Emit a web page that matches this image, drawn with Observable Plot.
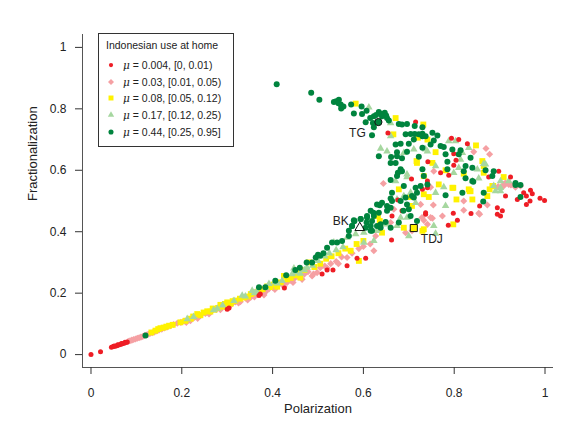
<!DOCTYPE html>
<html><head><meta charset="utf-8">
<script src="https://cdn.jsdelivr.net/npm/d3@7"></script>
<script src="https://cdn.jsdelivr.net/npm/@observablehq/plot@0.6"></script>
<style>
body{margin:0;background:#fff;font-family:"Liberation Sans",Arial,sans-serif;}
#wrap{position:relative;width:579px;height:422px;overflow:hidden;}
#legend{position:absolute;left:98px;top:33px;width:134px;height:112px;border:1px solid #333;background:#fff;color:#222;font-size:10.5px;}
#legend .t{position:absolute;left:7px;top:5px;white-space:nowrap;}
#legend .row{position:absolute;left:6px;white-space:nowrap;height:12px;line-height:12px;}
#legend .row svg{position:absolute;left:0;top:0;}
#legend .row span{position:absolute;left:18px;top:0;}
#legend i{font-family:"DejaVu Serif",serif;font-style:italic;}
</style></head>
<body><div id="wrap"><div id="legend"></div></div>
<script>
// ---- data (Polarization, Fractionalization) ----
const xTicks = [0, 0.2, 0.4, 0.6, 0.8, 1];
const yTicks = [0, 0.2, 0.4, 0.6, 0.8, 1];
const legendTitle = "Indonesian use at home";
const legendMu = ["0.004", "0.03", "0.08", "0.17", "0.44"];
const legendRange = ["[0, 0.01)", "[0.01, 0.05)", "[0.05, 0.12)", "[0.12, 0.25)", "[0.25, 0.95]"];

const redPts = [
 [0,0],[0.021,0.009],[0.045,0.024],[0.049,0.026],[0.053,0.027],[0.057,0.029],[0.061,0.031],[0.065,0.033],[0.069,0.035],[0.073,0.037],[0.077,0.039],[0.080,0.041],[0.051,0.028],[0.059,0.032],[0.067,0.036],[0.075,0.040],
 [0.300,0.148],[0.304,0.152],[0.370,0.192],[0.373,0.197],[0.426,0.217],[0.509,0.262],[0.520,0.275],[0.533,0.275],[0.564,0.289],[0.586,0.314],[0.605,0.314],[0.662,0.373],
 [0.715,0.757],[0.654,0.721],[0.794,0.704],[0.810,0.700],[0.829,0.686],[0.799,0.654],[0.804,0.633],[0.799,0.616],[0.742,0.628],[0.770,0.592],[0.788,0.584],[0.741,0.565],
 [0.898,0.597],[0.924,0.578],[0.876,0.578],[0.968,0.535],[0.913,0.516],[0.939,0.505],[0.953,0.527],[0.959,0.516],[0.972,0.524],[0.967,0.500],[0.959,0.489],[0.989,0.509],[0.999,0.502],
 [0.895,0.478],[0.906,0.468],[0.895,0.457],[0.902,0.451],[0.856,0.484],[0.837,0.459],[0.807,0.437],[0.798,0.460],[0.787,0.421],[0.737,0.457],[0.741,0.543],[0.706,0.572],[0.676,0.503],[0.685,0.468],[0.730,0.538],[0.663,0.451],[0.737,0.462]
];
const pinkPts = [
 [0.082,0.043],[0.086,0.045],[0.090,0.047],[0.094,0.049],[0.098,0.051],[0.102,0.053],[0.106,0.055],[0.110,0.057],[0.114,0.059],[0.118,0.062],[0.122,0.064],[0.126,0.066],[0.130,0.069],[0.135,0.071],[0.140,0.074],[0.145,0.077],[0.150,0.080],[0.156,0.083],[0.162,0.087],[0.168,0.090],[0.175,0.094],[0.182,0.098],[0.190,0.102],[0.198,0.105],[0.205,0.109],[0.215,0.113],[0.219,0.110],[0.228,0.121],[0.241,0.127],[0.252,0.134],[0.265,0.141],[0.276,0.147],[0.288,0.154],[0.296,0.160],[0.310,0.165],[0.318,0.171],[0.329,0.172],[0.342,0.183],[0.352,0.187],[0.366,0.197],[0.381,0.194],[0.392,0.214],[0.401,0.218],[0.412,0.226],[0.422,0.229],[0.432,0.235],[0.439,0.242],[0.448,0.248],[0.458,0.252],[0.470,0.262],[0.478,0.270],[0.487,0.256],[0.498,0.267],[0.505,0.283],[0.515,0.288],[0.528,0.296],[0.540,0.303],[0.552,0.318],[0.564,0.316],[0.575,0.330],[0.590,0.345],[0.600,0.352],[0.623,0.338],[0.615,0.360],
 [0.210,0.105],[0.235,0.118],[0.260,0.132],[0.285,0.146],[0.305,0.157],[0.325,0.168],[0.345,0.178],[0.360,0.188],[0.385,0.205],[0.405,0.212],[0.425,0.222],[0.445,0.235],[0.465,0.245],[0.490,0.262],[0.520,0.282],[0.545,0.296],
 [0.870,0.671],[0.878,0.652],[0.843,0.660],[0.748,0.545],[0.913,0.559],[0.924,0.554],[0.891,0.543],[0.755,0.597],[0.821,0.470],[0.854,0.460],[0.873,0.487],[0.754,0.487],[0.774,0.451],[0.752,0.444],[0.733,0.437],[0.741,0.424],[0.821,0.500],[0.909,0.554],[0.925,0.552],[0.644,0.557],[0.667,0.473],[0.660,0.430],[0.693,0.397],[0.627,0.386],[0.726,0.489],
 [0.909,0.549],[0.920,0.554],[0.946,0.549],[0.729,0.446],[0.748,0.446],[0.707,0.403],[0.856,0.457],[0.935,0.545],[0.897,0.547]
];
const yellowPts = [
 [0.133,0.072],[0.142,0.078],[0.148,0.083],[0.153,0.086],[0.160,0.088],[0.166,0.091],[0.172,0.094],[0.180,0.097],[0.197,0.105],[0.208,0.110],[0.220,0.117],[0.234,0.132],[0.241,0.128],[0.256,0.141],[0.263,0.140],[0.272,0.146],[0.285,0.162],[0.291,0.156],[0.300,0.170],[0.308,0.166],[0.318,0.176],[0.337,0.186],[0.346,0.189],[0.359,0.202],[0.368,0.205],[0.378,0.213],[0.395,0.220],[0.410,0.221],[0.418,0.235],[0.425,0.256],[0.440,0.250],[0.452,0.258],[0.461,0.251],[0.470,0.275],[0.480,0.300],[0.492,0.285],[0.505,0.296],[0.518,0.312],[0.530,0.320],[0.545,0.330],[0.560,0.345],[0.572,0.338],[0.590,0.305],[0.585,0.360],[0.600,0.370],
 [0.225,0.124],[0.248,0.137],[0.268,0.150],[0.280,0.152],[0.295,0.165],[0.312,0.174],[0.328,0.182],[0.352,0.197],[0.372,0.210],[0.388,0.222],[0.402,0.228],[0.432,0.245],[0.455,0.265],
 [0.583,0.817],[0.671,0.770],[0.666,0.717],[0.732,0.749],[0.720,0.706],[0.741,0.700],[0.848,0.681],[0.752,0.624],[0.759,0.659],[0.862,0.630],[0.865,0.614],[0.821,0.589],[0.909,0.578],[0.884,0.549],[0.798,0.543],[0.832,0.538],[0.798,0.424],[0.805,0.505],[0.840,0.505],[0.834,0.532],[0.873,0.516],[0.886,0.549],[0.730,0.403],[0.733,0.522],[0.766,0.554],[0.796,0.543],[0.718,0.624],[0.632,0.451],[0.636,0.435],[0.641,0.397],[0.689,0.413],[0.678,0.538],[0.707,0.484],[0.733,0.581],[0.733,0.408],
 [0.781,0.600],[0.836,0.532],[0.878,0.538],[0.630,0.457],[0.704,0.513],[0.744,0.513],[0.865,0.592],[0.717,0.630]
];
const trianglePts = [
 [0.212,0.116],[0.226,0.123],[0.270,0.145],[0.278,0.150],[0.315,0.175],[0.333,0.192],[0.340,0.190],[0.355,0.208],[0.365,0.205],[0.392,0.230],[0.405,0.235],[0.421,0.240],[0.443,0.262],[0.450,0.268],[0.461,0.264],[0.476,0.283],[0.488,0.290],[0.447,0.281],[0.500,0.305],[0.515,0.320],[0.525,0.330],[0.540,0.340],[0.555,0.350],
 [0.290,0.160],[0.360,0.200],[0.385,0.218],[0.410,0.232],[0.470,0.275],
 [0.612,0.805],[0.660,0.754],[0.638,0.671],[0.652,0.662],[0.711,0.668],[0.689,0.657],[0.741,0.662],[0.660,0.711],[0.788,0.695],[0.803,0.695],[0.832,0.673],[0.818,0.657],[0.865,0.621],[0.851,0.603],[0.814,0.635],[0.799,0.592],[0.759,0.614],[0.737,0.668],[0.920,0.565],[0.902,0.565],[0.777,0.545],[0.854,0.574],[0.781,0.484],[0.755,0.419],[0.891,0.532],[0.902,0.532],[0.759,0.527],
 [0.671,0.565],[0.696,0.587],[0.689,0.516],[0.704,0.527],[0.674,0.505],[0.715,0.494],[0.682,0.446],[0.696,0.446],[0.652,0.424],[0.674,0.419],[0.700,0.386],[0.630,0.403],[0.601,0.397],[0.583,0.392],[0.564,0.381],[0.535,0.365],[0.601,0.365],[0.623,0.370],
 [0.696,0.578],[0.810,0.608],[0.869,0.619],[0.840,0.565],[0.887,0.549],[0.902,0.543],[0.759,0.394]
];
const greenPts = [
 [0.120,0.062],[0.370,0.219],[0.384,0.219],[0.406,0.240],[0.430,0.258],[0.450,0.275],[0.460,0.283],[0.475,0.300],[0.487,0.300],[0.495,0.316],[0.500,0.325],[0.505,0.322],[0.512,0.330],[0.520,0.348],[0.531,0.365],[0.542,0.365],[0.553,0.370],[0.568,0.386],[0.568,0.403],[0.575,0.419],[0.580,0.435],[0.594,0.441],[0.579,0.437],
 [0.409,0.880],[0.485,0.852],[0.503,0.830],[0.535,0.822],[0.546,0.830],[0.550,0.814],[0.551,0.801],[0.573,0.814],[0.596,0.808],[0.579,0.785],[0.597,0.783],[0.607,0.794],[0.623,0.776],[0.634,0.790],[0.647,0.787],[0.641,0.776],[0.652,0.770],[0.656,0.762],[0.621,0.754],[0.605,0.756],[0.623,0.740],[0.619,0.714],
 [0.540,0.825],[0.556,0.808],[0.545,0.818],[0.628,0.780],[0.640,0.783],[0.650,0.778],[0.615,0.770],
 [0.678,0.751],[0.685,0.749],[0.696,0.751],[0.713,0.744],[0.693,0.717],[0.704,0.718],[0.713,0.718],[0.722,0.717],[0.730,0.711],[0.711,0.700],[0.671,0.684],[0.682,0.686],[0.700,0.686],[0.674,0.659],[0.696,0.660],[0.634,0.646],[0.661,0.643],[0.674,0.646],[0.685,0.639],[0.722,0.644],
 [0.730,0.740],[0.730,0.719],[0.737,0.711],[0.752,0.722],[0.763,0.713],[0.755,0.697],[0.748,0.684],[0.770,0.679],[0.777,0.676],[0.730,0.673],[0.796,0.668],[0.814,0.665],[0.781,0.652],[0.810,0.652],[0.836,0.641],[0.785,0.628],[0.825,0.614],[0.730,0.603],[0.785,0.603],[0.821,0.597],[0.840,0.608],[0.869,0.600],[0.887,0.597],[0.733,0.581],[0.825,0.574],[0.840,0.565],[0.884,0.581],[0.935,0.559],[0.946,0.552],
 [0.781,0.519],[0.818,0.527],[0.865,0.527],[0.864,0.498],[0.946,0.513],[0.935,0.552],[0.842,0.563],
 [0.660,0.624],[0.671,0.624],[0.682,0.603],[0.676,0.592],[0.685,0.597],[0.674,0.581],[0.660,0.568],[0.689,0.549],[0.715,0.543],[0.726,0.549],[0.741,0.554],[0.663,0.527],[0.660,0.508],[0.663,0.500],[0.641,0.494],[0.636,0.486],[0.652,0.484],[0.660,0.478],[0.682,0.500],[0.693,0.511],[0.711,0.511],[0.696,0.489],[0.718,0.527],[0.700,0.473],[0.688,0.468],[0.652,0.468],[0.634,0.462],[0.616,0.468],[0.623,0.451],[0.608,0.446],[0.619,0.435],[0.607,0.430],[0.616,0.419],[0.630,0.419],[0.638,0.424],[0.649,0.432],[0.660,0.413],[0.594,0.441],[0.580,0.435],[0.575,0.419],[0.605,0.413],[0.619,0.403],[0.638,0.413],[0.678,0.430],[0.718,0.435],[0.704,0.451],[0.707,0.516],
 [0.616,0.403],[0.608,0.451],[0.622,0.462],[0.630,0.489]
];
// labelled places: name, Polarization, Fractionalization, group index
const placeNames = ["TG", "BK", "TDJ"];
const placeX = [0.633, 0.592, 0.711];
const placeY = [0.757, 0.413, 0.412];
const placeGroup = [4, 3, 2];

// ---- styling ----
const groupFill = ["#ee1d25", "#f5a0a3", "#fff200", "#a6d7a0", "#00843e"];
const groupSymbol = ["circle", "diamond2", "square", "triangle", "circle"];
const groupR = [2.5, 3.2, 3.3, 2.8, 3.0];
const groupData = [redPts, pinkPts, yellowPts, trianglePts, greenPts];
const drawOrder = [1, 2, 3, 0, 4];

const xDomain = [-0.0187, 1.0187];
const yDomain = [-0.042, 1.042];

const marks = [
  Plot.ruleY([yDomain[0]], {stroke: "#555"}),
  Plot.ruleX([xDomain[0]], {stroke: "#555"}),
  Plot.axisX(xTicks, {tickSize: 7, tickPadding: 14, tickFormat: d => String(d), fontSize: 12, label: null, stroke: "#333"}),
  Plot.axisY(yTicks, {tickSize: 7, tickPadding: 9, tickFormat: d => String(d), fontSize: 12, label: null, stroke: "#333"}),
  Plot.text(["Polarization"], {frameAnchor: "bottom", dy: 45, fontSize: 13, fill: "#222"}),
  Plot.text(["Fractionalization"], {frameAnchor: "left", dx: -50, rotate: -90, fontSize: 13, fill: "#222"})
];
for (const g of drawOrder) {
  marks.push(Plot.dot(groupData[g], {x: d => d[0], y: d => d[1], fill: groupFill[g], symbol: groupSymbol[g], r: groupR[g], stroke: "none"}));
}
const places = placeNames.map((n, i) => ({name: n, x: placeX[i], y: placeY[i], g: placeGroup[i]}));
places.forEach(p => {
  marks.push(Plot.dot([p], {x: "x", y: "y", symbol: groupSymbol[p.g], fill: p.g === 3 ? "none" : groupFill[p.g], stroke: "#111", strokeWidth: 1, r: p.g === 2 ? 4 : 3.6}));
});
const labelOffsets = {TG: [-21, 11], BK: [-19, -7], TDJ: [18, 11]};
places.forEach(p => {
  marks.push(Plot.text([p], {x: "x", y: "y", text: "name", dx: labelOffsets[p.name][0], dy: labelOffsets[p.name][1], fontSize: 12, fill: "#222"}));
});

const chart = Plot.plot({
  width: 579, height: 422,
  marginLeft: 82, marginRight: 26, marginTop: 34, marginBottom: 55,
  x: {domain: xDomain},
  y: {domain: yDomain},
  style: {fontFamily: "'Liberation Sans', Arial, sans-serif", background: "white", color: "#222"},
  marks
});
document.getElementById("wrap").insertBefore(chart, document.getElementById("legend"));

// ---- legend ----
const legend = document.getElementById("legend");
const t = document.createElement("div");
t.className = "t"; t.textContent = legendTitle; legend.appendChild(t);
const rowTops = [25, 42, 58, 75, 92];
for (let g = 0; g < 5; g++) {
  const row = document.createElement("div");
  row.className = "row"; row.style.top = rowTops[g] + "px";
  const s = d3.create("svg").attr("width", 12).attr("height", 12);
  const symMap = {circle: d3.symbolCircle, diamond2: d3.symbolDiamond2, square: d3.symbolSquare, triangle: d3.symbolTriangle};
  const rr = groupR[g] * 0.85;
  s.append("path").attr("transform", "translate(6,6)")
    .attr("d", d3.symbol(symMap[groupSymbol[g]], Math.PI * rr * rr)()).attr("fill", groupFill[g]);
  row.appendChild(s.node());
  const sp = document.createElement("span");
  sp.innerHTML = "<i>\u03bc</i> = " + legendMu[g] + ", " + legendRange[g];
  row.appendChild(sp);
  legend.appendChild(row);
}
</script>
</body></html>
